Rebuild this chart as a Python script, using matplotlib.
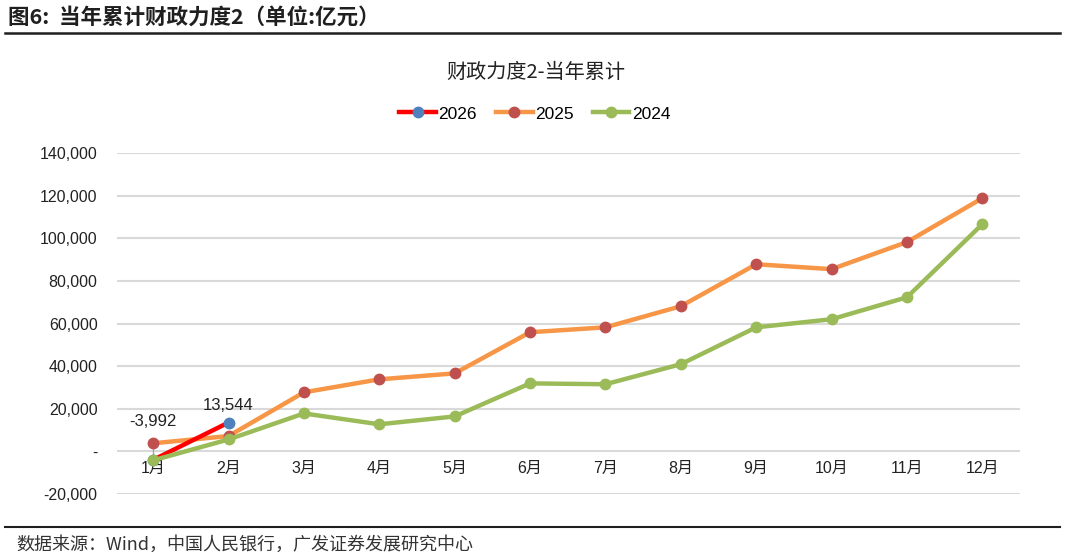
import numpy as np
import matplotlib.pyplot as plt
from matplotlib.lines import Line2D

plt.rcParams['font.family'] = ['Liberation Sans', 'Noto Sans CJK SC', 'DejaVu Sans']

months = ['1月', '2月', '3月', '4月', '5月', '6月', '7月', '8月', '9月', '10月', '11月', '12月']
v2026 = [-3992, 13544]
v2025 = [3800, 7200, 27700, 33800, 36600, 55900, 58200, 68100, 87800, 85500, 98200, 118800]
v2024 = [-4200, 5600, 17800, 12700, 16400, 31900, 31500, 40900, 58200, 62000, 72300, 106600]
yticks = [-20000, 0, 20000, 40000, 60000, 80000, 100000, 120000, 140000]

fig = plt.figure(figsize=(10.8, 5.55), dpi=100)
ax = fig.add_axes([117/1080, 1-494/555, (1020-117)/1080, (494-153)/555])

x = np.arange(len(months))
ax.plot(x, v2025, color='#F79646', lw=3.2, marker='o', ms=7.5, mfc='#C0504D', mec='#C0504D', zorder=3)
ax.plot(x[:2], v2026, color='#FF0000', lw=3.2, marker='o', ms=7.5, mfc='#4F81BD', mec='#4F81BD', zorder=4)
ax.plot(x, v2024, color='#9BBB59', lw=3.2, marker='o', ms=7.5, mfc='#9BBB59', mec='#9BBB59', zorder=5)

ax.set_xlim(-0.48, 11.5)
ax.set_ylim(-20000, 140000)
ax.set_yticks(yticks)
ax.set_yticklabels(['-' if v == 0 else f'{v:,}' for v in yticks], fontsize=11.5, color='#222222')
ax.grid(axis='y', color='#D9D9D9', lw=1.5)
ax.set_axisbelow(True)
for s in ['top', 'right', 'left']:
    ax.spines[s].set_visible(False)
ax.spines['bottom'].set_position(('data', 0))
ax.spines['bottom'].set_visible(False)
ax.set_xticks(x)
ax.set_xticklabels(months, fontsize=11.5, color='#222222', family=['Liberation Sans', 'Noto Sans CJK SC'])
ax.tick_params(axis='both', length=0)
ax.tick_params(axis='x', pad=7)
ax.tick_params(axis='y', pad=14)

# data labels
ax.plot([0, 0], [-3992, 6000], color='#A6A6A6', lw=1, zorder=2)
ax.annotate('-3,992', (0, -3992), xytext=(0, 10500), textcoords='data', ha='center', va='bottom',
            fontsize=12, color='#222222')
ax.annotate('13,544', (1, 13544), xytext=(0, 7), textcoords='offset points', ha='center', va='bottom',
            fontsize=12, color='#222222')

# chart title and legend
fig.text(536/1080, 1-72/555, '财政力度2-当年累计', ha='center', va='center', fontsize=14.5,
         family=['Noto Sans CJK SC', 'Liberation Sans'], color='#222222')
handles = [Line2D([], [], color='#FF0000', lw=3.2, marker='o', ms=7.5, mfc='#4F81BD', mec='#4F81BD'),
           Line2D([], [], color='#F79646', lw=3.2, marker='o', ms=7.5, mfc='#C0504D', mec='#C0504D'),
           Line2D([], [], color='#9BBB59', lw=3.2, marker='o', ms=7.5, mfc='#9BBB59', mec='#9BBB59')]
fig.legend(handles, ['2026', '2025', '2024'], loc='center', bbox_to_anchor=(535/1080, 1-114/555),
           ncol=3, frameon=False, fontsize=12.5, handlelength=2.1, handletextpad=0.15, columnspacing=1.1)

# header and footer
fig.text(8/1080, 1-17/555, '图6:  当年累计财政力度2（单位:亿元）', ha='left', va='center', fontsize=15.5,
         fontweight='bold', family=['Noto Sans CJK SC', 'Liberation Sans'], color='#1F1F1F')
fig.add_artist(Line2D([5/1080, 1060/1080], [1-33/555, 1-33/555], color='#1F1F1F', lw=1.8))
fig.add_artist(Line2D([5/1080, 1060/1080], [1-527/555, 1-527/555], color='#1F1F1F', lw=1.5))
fig.text(16/1080, 1-545/555, '数据来源：Wind，中国人民银行，广发证券发展研究中心', ha='left', va='center',
         fontsize=13, family=['Noto Sans CJK SC', 'Liberation Sans'], color='#333333')

fig.savefig('out.png', dpi=100)
